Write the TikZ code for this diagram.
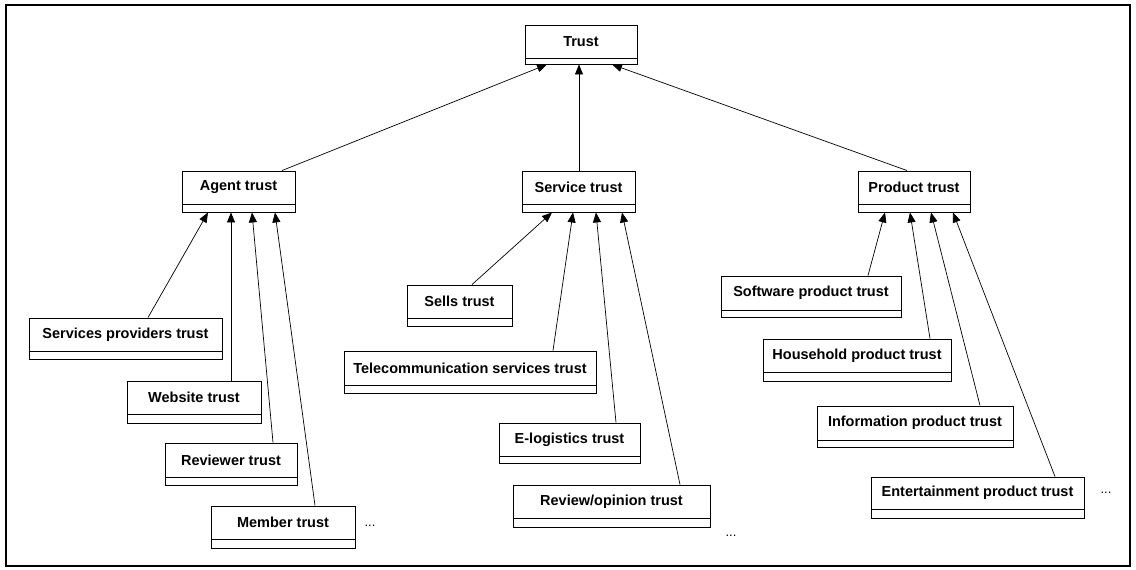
\documentclass[tikz,border=0pt]{standalone}
\usepackage{fontspec}
\setmainfont{Liberation Sans}
\usetikzlibrary{arrows.meta,fit}

\tikzset{
  clsbox/.style={draw, line width=0.9pt, inner sep=0pt, fill=white,
                 font=\fontsize{14.5}{16}\selectfont\bfseries},
  compbox/.style={draw, line width=0.9pt, inner sep=0pt},
  dotsep/.style={dash pattern=on 1pt off 1.5pt},
  inherit/.style={line width=0.7pt, -{Triangle[length=10pt,width=8pt]}},
  more/.style={font=\fontsize{13}{15}\selectfont}
}

% class box: name, x1, y1, x2, ydiv, ybot, text
\newcommand{\umlclass}[7]{%
  \node[clsbox, fit={(#2,#3) (#4,#5)}] (#1) {};
  \node at (#1.center) [font=\fontsize{14.5}{16}\selectfont\bfseries] {#7};
  \node[compbox, fit={(#2,#5) (#4,#6)}] (#1c) {};
}

\begin{document}
\begin{tikzpicture}[x=1pt,y=-1pt]
\useasboundingbox (0,0) rectangle (1136,570);

% outer frame
\draw[line width=2pt] (6,566) -- (6,5) -- (1130,5) -- (1130,566) -- cycle;

% root
\umlclass{trust}{525}{25}{637}{58}{64}{Trust}

% second level
\umlclass{agent}{182}{171}{295}{204}{212}{Agent trust}
\umlclass{service}{522}{171}{635}{204}{212}{Service trust}
\umlclass{product}{858}{171}{970}{204}{212}{Product trust}

% agent children
\umlclass{spt}{29}{318}{222}{351}{359}{Services providers trust}
\umlclass{web}{127}{381}{261}{414}{423}{Website trust}
\umlclass{rev}{165}{443}{297}{477}{485}{Reviewer trust}
\umlclass{mem}{211}{506}{355}{539}{548}{Member trust}

% service children
\umlclass{sells}{407}{285}{512}{318}{326}{Sells trust}
\umlclass{tel}{344}{351}{596}{385}{393}{Telecommunication services trust}
\umlclass{elog}{499}{423}{640}{456}{463}{E-logistics trust}
\umlclass{revop}{513}{485}{710}{518}{527}{Review/opinion trust}

% product children
\umlclass{soft}{721}{276}{901}{310}{317}{Software product trust}
\umlclass{house}{763}{339}{951}{372}{381}{Household product trust}
\umlclass{info}{817}{406}{1013}{440}{447}{Information product trust}
\umlclass{ent}{871}{477}{1084}{509}{518}{Entertainment product trust}

% continuation marks
\node[more] (m1) at (370,526) {...};
\node[more] (m2) at (731,536) {...};
\node[more] (m3) at (1106,493) {...};

% generalisation arrows to the root
\draw[inherit] (agent.north -| 282,0) -- (trustc.south -| 547,0);
\draw[inherit] (service.north -| 579,0) -- (trustc.south -| 579,0);
\draw[inherit] (product.north -| 907,0) -- (trustc.south -| 612,0);

% arrows to agent trust
\draw[inherit] (spt.north -| 148,0) -- (agentc.south -| 208,0);
\draw[inherit] (web.north -| 231,0) -- (agentc.south -| 231,0);
\draw[inherit] (rev.north -| 273,0) -- (agentc.south -| 252,0);
\draw[inherit] (mem.north -| 315,0) -- (agentc.south -| 275,0);

% arrows to service trust
\draw[inherit] (sells.north -| 472,0) -- (servicec.south -| 552,0);
\draw[inherit] (tel.north -| 553,0) -- (servicec.south -| 573,0);
\draw[inherit] (elog.north -| 616,0) -- (servicec.south -| 596,0);
\draw[inherit] (revop.north -| 680,0) -- (servicec.south -| 622,0);

% arrows to product trust
\draw[inherit] (soft.north -| 868,0) -- (productc.south -| 885,0);
\draw[inherit] (house.north -| 930,0) -- (productc.south -| 910,0);
\draw[inherit] (info.north -| 980,0) -- (productc.south -| 931,0);
\draw[inherit] (ent.north -| 1055,0) -- (productc.south -| 953,0);
\end{tikzpicture}
\end{document}
